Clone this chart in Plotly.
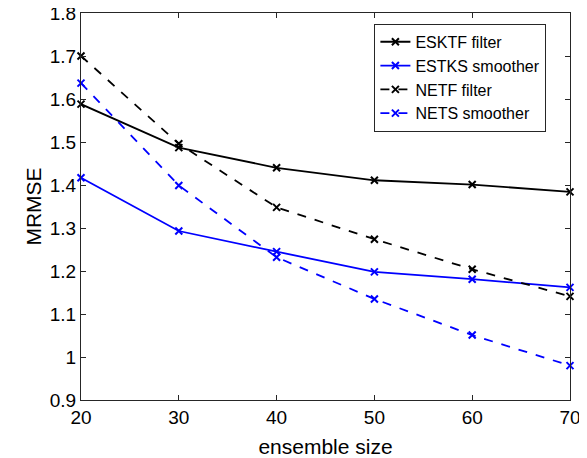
import plotly.graph_objects as go

# ensemble sizes on the x axis
ensemble_size = [20, 30, 40, 50, 60, 70]

# MRMSE values
esktf_filter = [1.588, 1.487, 1.440, 1.411, 1.401, 1.384]
estks_smoother = [1.417, 1.293, 1.245, 1.198, 1.181, 1.162]
netf_filter = [1.700, 1.496, 1.348, 1.274, 1.204, 1.141]
nets_smoother = [1.637, 1.399, 1.232, 1.135, 1.051, 0.980]

series_names = ['ESKTF filter', 'ESTKS smoother', 'NETF filter', 'NETS smoother']

y_ticks = [0.9, 1.0, 1.1, 1.2, 1.3, 1.4, 1.5, 1.6, 1.7, 1.8]
y_tick_labels = ['0.9', '1', '1.1', '1.2', '1.3', '1.4', '1.5', '1.6', '1.7', '1.8']

blue = '#0000ff'
black = '#000000'

fig = go.Figure()

styles = [
    (esktf_filter, black, 'solid'),
    (estks_smoother, blue, 'solid'),
    (netf_filter, black, 'dash'),
    (nets_smoother, blue, 'dash'),
]

for name, (vals, col, dash) in zip(series_names, styles):
    fig.add_trace(go.Scatter(
        x=ensemble_size,
        y=vals,
        name=name,
        mode='lines+markers',
        line=dict(color=col, width=1.8, dash=dash),
        marker=dict(symbol='x-thin-open', size=7,
                    line=dict(color=col, width=2)),
        cliponaxis=False,
    ))

fnt = 'Liberation Sans, Arial, sans-serif'
tick_font = dict(family=fnt, size=19, color='#000000')

# page body has an 8px margin, so the figure is a bit smaller than the window
fig.update_layout(
    width=579,
    height=450,
    paper_bgcolor='white',
    plot_bgcolor='white',
    margin=dict(l=73, r=17, t=5, b=58),
    font=dict(family=fnt, color='#000000'),
    showlegend=True,
    legend=dict(
        x=0.60, y=0.972,
        xanchor='left', yanchor='top',
        bgcolor='white',
        bordercolor='#262626',
        borderwidth=1,
        font=dict(family=fnt, size=16, color='#000000'),
        tracegroupgap=0,
        itemwidth=30,
    ),
)

fig.update_xaxes(
    range=[20, 70],
    tickvals=ensemble_size,
    ticks='inside',
    ticklen=5,
    tickcolor='#262626',
    showline=True,
    linecolor='#262626',
    linewidth=1,
    mirror='ticks',
    showgrid=False,
    zeroline=False,
    tickfont=tick_font,
    ticklabeloverflow='allow',
    automargin=False,
    title=dict(text='ensemble size', font=dict(family=fnt, size=21), standoff=12),
)

fig.update_yaxes(
    range=[0.9, 1.8],
    tickvals=y_ticks,
    ticktext=y_tick_labels,
    ticks='inside',
    ticklen=5,
    tickcolor='#262626',
    showline=True,
    linecolor='#262626',
    linewidth=1,
    mirror='ticks',
    showgrid=False,
    zeroline=False,
    tickfont=tick_font,
    ticklabeloverflow='allow',
    automargin=False,
    title=dict(text='MRMSE', font=dict(family=fnt, size=21), standoff=2),
)

fig.write_html('out.html')
